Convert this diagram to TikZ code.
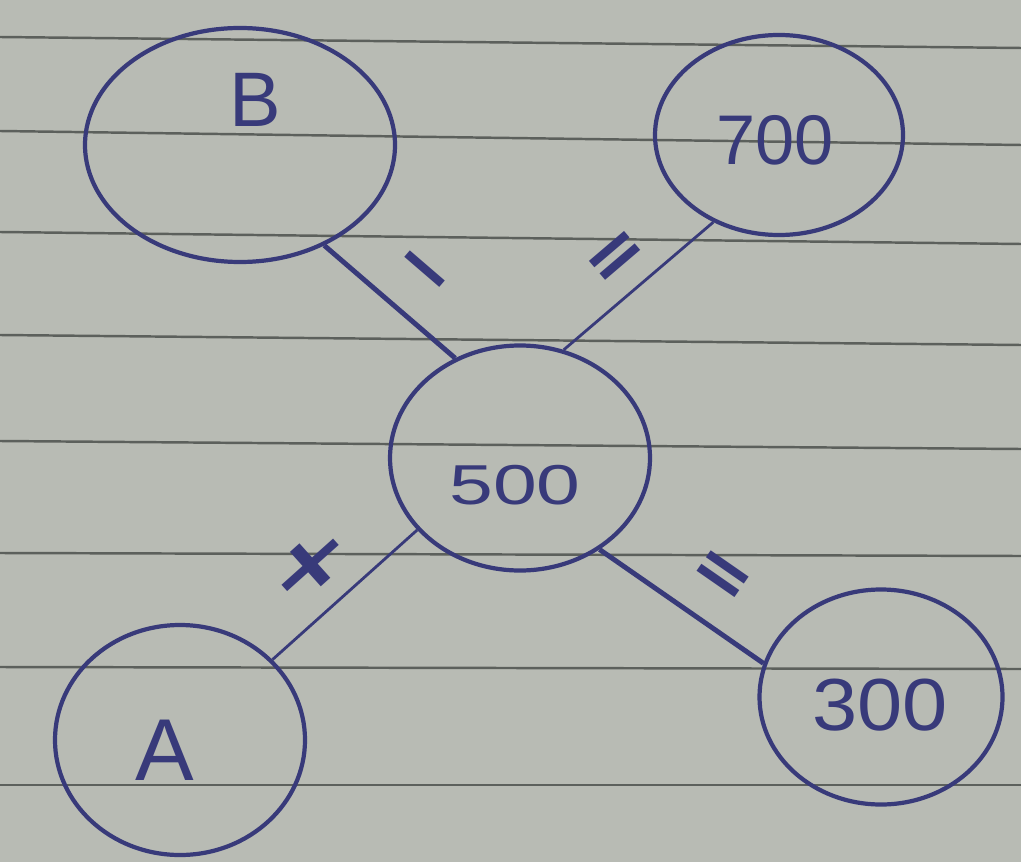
\documentclass[tikz,border=0pt]{standalone}
\usepackage{fontspec}
\setmainfont{Liberation Sans}
\newfontfamily\signfont{DejaVu Sans}
\usetikzlibrary{shapes.geometric}
\definecolor{ink}{HTML}{383A7A}
\definecolor{paper}{HTML}{B8BBB4}
\definecolor{rule}{HTML}{5C605C}
\tikzstyle{bubble} = [ellipse, draw = ink, line width = 2.4pt, inner sep = 0pt]
\tikzstyle{hand} = [text = ink, inner sep = 0pt]
\tikzstyle{thick wire} = [draw = ink, line width = 2.8pt]
\tikzstyle{thin wire} = [draw = ink, line width = 1.6pt]
\tikzstyle{sign} = [text = ink, font = \signfont\bfseries\fontsize{42}{42}\selectfont, inner sep = 0pt, anchor = center, sloped]

\begin{document}
\begin{tikzpicture}
\useasboundingbox (0,0) rectangle (20.42,-17.24);
%纸张与横线
\fill[paper] (0,0) rectangle (20.42,-17.24);
\foreach \yl/\yr in {0.74/0.96, 2.62/2.90, 4.64/4.88, 6.70/6.90, 8.82/8.98, 11.06/11.12, 13.34/13.38, 15.70/15.70}
  \draw[rule, line width = 1.4pt] (0,-\yl) -- (20.42,-\yr);
%定义圆
\node[bubble, minimum width = 6.2cm, minimum height = 4.68cm](nb) at (4.8,-2.9){};
\node[bubble, minimum width = 4.96cm, minimum height = 4.0cm](n700) at (15.58,-2.7){};
\node[bubble, minimum width = 5.2cm, minimum height = 4.5cm](n500) at (10.4,-9.16){};
\node[bubble, minimum width = 5.0cm, minimum height = 4.6cm](na) at (3.6,-14.8){};
\node[bubble, minimum width = 4.86cm, minimum height = 4.3cm](n300) at (17.62,-13.94){};
%圆内文字
\node[hand, font = \fontsize{44}{44}\selectfont](tb) at (5.1,-2.0){B};
\node[hand, font = \fontsize{40}{40}\selectfont](t700) at (15.5,-2.8){700};
\node[hand, font = \fontsize{32}{32}\selectfont, xscale = 1.4](t500) at (10.3,-9.7){500};
\node[hand, font = \fontsize{42}{42}\selectfont, xscale = 1.1](t300) at (17.6,-14.1){300};
\node[hand, font = \fontsize{50}{50}\selectfont](ta) at (3.3,-15.0){A};
%连线
\draw[thick wire] (nb.-50) -- node[sign, pos = 0.53, yshift = 0.77cm](sb){−} (n500.123);
\draw[thin wire] (n700.233) -- node[sign, pos = 0.49, yshift = 0.65cm](s700){=} (n500.68);
\draw[thin wire] (n500.215) -- node[sign, pos = 0.53, yshift = 0.9cm, xscale = 1.5](sa){+} (na.41);
\draw[thick wire] (n500.-49) -- node[sign, pos = 0.58, yshift = 0.9cm](s300){=} (n300.164);
\end{tikzpicture}
\end{document}
